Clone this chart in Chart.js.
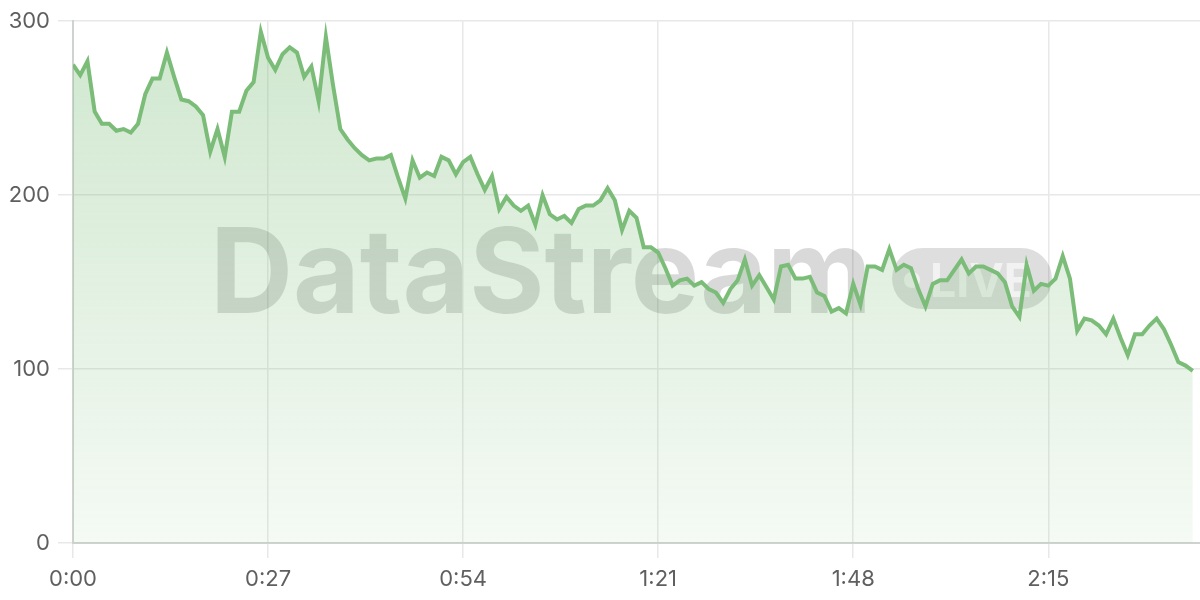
<!DOCTYPE html>
<html>
<head>
<meta charset="utf-8">
<script src="https://cdn.jsdelivr.net/npm/chart.js@4"></script>
<style>
  html, body { margin: 0; padding: 0; background: #fff; }
  #wrap { width: 1200px; height: 600px; position: relative; }
</style>
</head>
<body>
<div id="wrap"><canvas id="streamChart"></canvas></div>
<script>
// one reading per second, 0:00 .. 2:35
const values = [
  275, 269, 277, 248, 241, 241, 237, 238, 236, 241,
  258, 267, 267, 282, 268, 255, 254, 251, 246, 225,
  238, 222, 248, 248, 260, 265, 294, 279, 272, 281,
  285, 282, 268, 274, 254, 291, 263, 238, 232, 227,
  223, 220, 221, 221, 223, 210, 198, 220, 210, 213,
  211, 222, 220, 212, 219, 222, 212, 203, 211, 192,
  199, 194, 191, 194, 183, 200, 189, 186, 188, 184,
  192, 194, 194, 197, 204, 197, 180, 191, 187, 170,
  170, 167, 158, 148, 151, 152, 148, 150, 146, 144,
  138, 146, 151, 163, 148, 154, 147, 140, 159, 160,
  152, 152, 153, 144, 142, 133, 135, 132, 149, 137,
  159, 159, 157, 169, 157, 160, 158, 146, 136, 149,
  151, 151, 157, 163, 155, 159, 159, 157, 155, 150,
  136, 130, 160, 145, 149, 148, 152, 165, 152, 122,
  129, 128, 125, 120, 129, 118, 108, 120, 120, 125,
  129, 123, 114, 104, 102, 99
];
const tickSeconds = [0, 27, 54, 81, 108, 135];
const tickLabels = ['0:00', '0:27', '0:54', '1:21', '1:48', '2:15'];
const yTicks = [0, 100, 200, 300];

const points = values.map((v, i) => ({ x: i, y: v }));

const watermark = {
  id: 'watermark',
  beforeDatasetsDraw(chart) {
    const ctx = chart.ctx;
    ctx.save();
    // big brand text
    ctx.font = 'bold 118px Inter, "Open Sans", sans-serif';
    ctx.textBaseline = 'alphabetic';
    const w = ctx.measureText('DataStream').width;
    ctx.translate(210, 313);
    ctx.scale(662 / w, 1);
    ctx.fillStyle = 'rgba(0,0,0,0.15)';
    ctx.fillText('DataStream', 0, 0);
    ctx.restore();

    // LIVE pill
    ctx.save();
    const px = 892, py = 248, pw = 160, ph = 61, r = 30.5;
    ctx.beginPath();
    ctx.moveTo(px + r, py);
    ctx.lineTo(px + pw - r, py);
    ctx.arc(px + pw - r, py + r, r, -Math.PI / 2, Math.PI / 2);
    ctx.lineTo(px + r, py + ph);
    ctx.arc(px + r, py + r, r, Math.PI / 2, Math.PI * 1.5);
    ctx.closePath();
    ctx.fillStyle = 'rgba(0,0,0,0.13)';
    ctx.fill();
    ctx.fillStyle = 'rgba(255,255,255,0.6)';
    ctx.beginPath();
    ctx.arc(912, 280, 8, 0, Math.PI * 2);
    ctx.fill();
    ctx.font = 'bold 46px Inter, "Open Sans", sans-serif';
    const lw = ctx.measureText('LIVE').width;
    ctx.translate(930, 297);
    ctx.scale(102 / lw, 1);
    ctx.fillText('LIVE', 0, 0);
    ctx.restore();
  }
};

const ctx = document.getElementById('streamChart').getContext('2d');
new Chart(ctx, {
  type: 'line',
  data: {
    datasets: [{
      data: points,
      borderColor: '#7bbd78',
      borderWidth: 4,
      pointRadius: 0,
      tension: 0,
      fill: 'origin',
      backgroundColor: (c) => {
        const area = c.chart.chartArea;
        if (!area) return 'rgba(123,189,120,0.2)';
        const g = c.chart.ctx.createLinearGradient(0, area.top, 0, area.bottom);
        g.addColorStop(0, 'rgba(123,189,120,0.36)');
        g.addColorStop(1, 'rgba(123,189,120,0.08)');
        return g;
      }
    }]
  },
  options: {
    responsive: true,
    maintainAspectRatio: false,
    animation: false,
    layout: { padding: { top: 19, right: 0, left: 0, bottom: 0 } },
    plugins: { legend: { display: false }, tooltip: { enabled: false } },
    scales: {
      x: {
        type: 'linear',
        min: 0,
        max: 156,
        afterBuildTicks: (scale) => { scale.ticks = tickSeconds.map(v => ({ value: v })); },
        afterFit: (scale) => { scale.height = 57; },
        ticks: {
          autoSkip: false,
          maxRotation: 0,
          padding: 8,
          color: '#5f5f5f',
          font: { family: 'Inter, "Open Sans", sans-serif', size: 22 },
          callback: (v) => tickLabels[tickSeconds.indexOf(v)]
        },
        grid: { color: '#e8e8e8', lineWidth: 1.5, tickLength: 15 },
        border: { color: '#cfd3cf', width: 2 }
      },
      y: {
        min: 0,
        max: 300,
        afterBuildTicks: (scale) => { scale.ticks = yTicks.map(v => ({ value: v })); },
        afterFit: (scale) => { scale.width = 73; },
        ticks: {
          padding: 8,
          color: '#5f5f5f',
          font: { family: 'Inter, "Open Sans", sans-serif', size: 22 }
        },
        grid: { color: '#e8e8e8', lineWidth: 1.5, tickLength: 15 },
        border: { color: '#cfd3cf', width: 2 }
      }
    }
  },
  plugins: [watermark]
});
</script>
</body>
</html>
